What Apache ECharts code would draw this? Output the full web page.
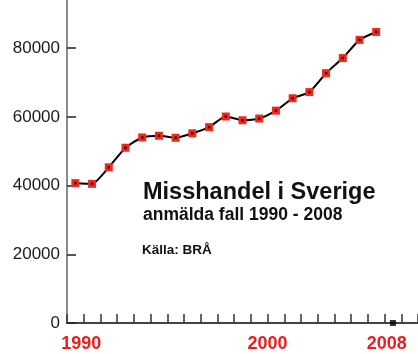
<!DOCTYPE html>
<html>
<head>
<meta charset="utf-8">
<script src="https://cdn.jsdelivr.net/npm/echarts@6/dist/echarts.min.js"></script>
<style>
  html, body { margin: 0; padding: 0; background: #fff; }
  #chart { width: 418px; height: 354px; }
</style>
</head>
<body>
<div id="chart"></div>
<script>
// år (sista två kategorierna är tomma, axeln fortsätter ut till kanten)
var years = ['1990','1991','1992','1993','1994','1995','1996','1997','1998','1999',
             '2000','2001','2002','2003','2004','2005','2006','2007','2008','2009','2010'];
// anmälda misshandelsfall per år
var cases = [40700, 40500, 45300, 51000, 54000, 54500, 53900, 55200, 57000, 60100,
             59000, 59500, 61800, 65400, 67200, 72700, 77100, 82400, 84700];
// svart markering nere vid axeln
var endMark = [['2009', 0]];
var yTicks = [0, 20000, 40000, 60000, 80000];
var shownYears = ['1990', '2000', '2008'];

var font = '"Liberation Sans", Arial, sans-serif';
var myChart = echarts.init(document.getElementById('chart'));

myChart.setOption({
    animation: false,
    title: [
        {
            text: 'Misshandel i Sverige',
            left: 143, top: 181, padding: 0,
            textStyle: { fontFamily: font, fontSize: 23.5, fontWeight: 'bold', color: '#111' }
        },
        {
            text: 'anmälda fall 1990 - 2008',
            left: 143, top: 206, padding: 0,
            textStyle: { fontFamily: font, fontSize: 17.5, fontWeight: 'bold', color: '#111' }
        },
        {
            text: 'Källa: BRÅ',
            left: 142, top: 243.5, padding: 0,
            textStyle: { fontFamily: font, fontSize: 13.5, fontWeight: 'bold', color: '#111' }
        }
    ],
    grid: { left: 67, right: -10, top: 0, bottom: 31 },
    xAxis: {
        type: 'category',
        data: years,
        boundaryGap: true,
        axisLine: { lineStyle: { color: '#444', width: 2 } },
        axisTick: { show: true, inside: true, length: 9, interval: 0, alignWithLabel: false,
                    lineStyle: { color: '#333', width: 1.5 } },
        axisLabel: {
            interval: 0,
            margin: 12,
            formatter: function (v) {
                if (shownYears.indexOf(v) < 0) return '';
                return '{y' + v + '|' + v + '}';
            },
            rich: {
                y1990: { padding: [0, 0, 0, 12] },
                y2000: { padding: [0, 0, 0, 50] },
                y2008: { padding: [0, 0, 0, 21] }
            },
            fontFamily: font, fontSize: 18, fontWeight: 'bold', color: '#ee1c1c'
        },
        splitLine: { show: false }
    },
    yAxis: {
        type: 'value',
        min: 0,
        max: 94000,
        axisLine: { show: true, lineStyle: { color: '#8c8c8c', width: 2 } },
        axisTick: { show: true, inside: true, length: 9, customValues: yTicks, lineStyle: { color: '#222', width: 1.5 } },
        axisLabel: {
            customValues: yTicks,
            formatter: function (v) { return String(v); },
            margin: 7,
            padding: [4, 0, 0, 0],
            fontFamily: font, fontSize: 17, color: '#1a1a1a'
        },
        splitLine: { show: false }
    },
    series: [
        {
            type: 'line',
            data: cases,
            smooth: 0.2,
            symbol: 'rect',
            symbolSize: 8,
            lineStyle: { color: '#000', width: 2 },
            itemStyle: { color: '#f0281c', borderWidth: 0 },
            z: 2
        },
        {
            // svart prick mitt i varje markör
            type: 'scatter',
            data: cases,
            symbol: 'rect',
            symbolSize: 2.5,
            itemStyle: { color: '#000' },
            z: 3
        },
        {
            type: 'scatter',
            data: endMark,
            symbol: 'rect',
            symbolSize: 6,
            itemStyle: { color: '#000' },
            z: 3
        }
    ]
});
window.onresize = myChart.resize;
</script>
</body>
</html>
